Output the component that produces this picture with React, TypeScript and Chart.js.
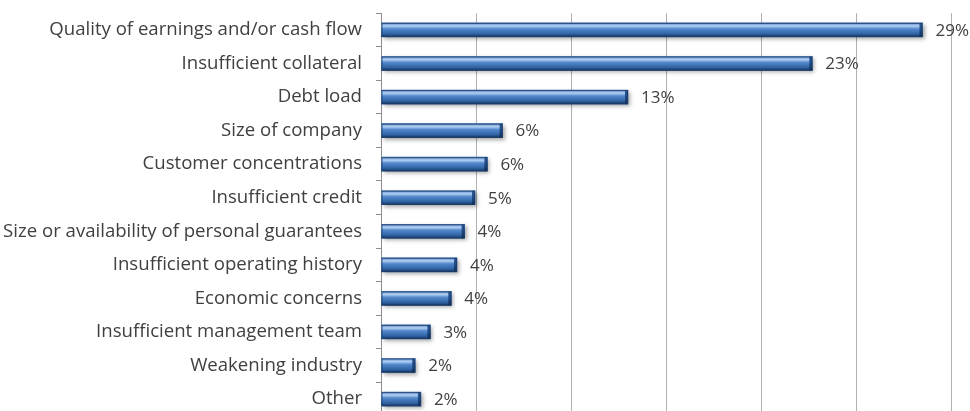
import React, { useEffect, useRef } from "react";
import { Chart, registerables } from "chart.js";

Chart.register(...registerables);

const categories: string[] = [
  "Quality of earnings and/or cash flow",
  "Insufficient collateral",
  "Debt load",
  "Size of company",
  "Customer concentrations",
  "Insufficient credit",
  "Size or availability of personal guarantees",
  "Insufficient operating history",
  "Economic concerns",
  "Insufficient management team",
  "Weakening industry",
  "Other",
];

const values: number[] = [28.5, 22.7, 13.0, 6.4, 5.6, 4.95, 4.4, 4.0, 3.7, 2.6, 1.8, 2.1];

const valueLabels: string[] = ["29%", "23%", "13%", "6%", "6%", "5%", "4%", "4%", "4%", "3%", "2%", "2%"];

const xTicks: number[] = [0, 5, 10, 15, 20, 25, 30];

const barStylePlugin = {
  id: "barStyle",
  afterDatasetsDraw(chart: any) {
    const ctx = chart.ctx as CanvasRenderingContext2D;
    const meta = chart.getDatasetMeta(0);
    meta.data.forEach((el: any, i: number) => {
      const { x, y, base, height } = el.getProps(["x", "y", "base", "height"], true);
      const left = Math.min(base, x);
      const w = Math.abs(x - base);
      const top = y - height / 2;
      ctx.save();
      ctx.shadowColor = "rgba(0,0,0,0.35)";
      ctx.shadowBlur = 4;
      ctx.shadowOffsetX = 2;
      ctx.shadowOffsetY = 2;
      const g = ctx.createLinearGradient(0, top, 0, top + height);
      g.addColorStop(0, "#5a8bcb");
      g.addColorStop(0.22, "#b3d0f2");
      g.addColorStop(0.42, "#5389cc");
      g.addColorStop(0.78, "#2f63a5");
      g.addColorStop(1, "#17345e");
      ctx.fillStyle = g;
      ctx.fillRect(left, top, w, height);
      ctx.restore();
      // dark end cap
      ctx.save();
      const g2 = ctx.createLinearGradient(0, top, 0, top + height);
      g2.addColorStop(0, "#2d5a94");
      g2.addColorStop(0.5, "#1f4a85");
      g2.addColorStop(1, "#102a50");
      ctx.fillStyle = g2;
      ctx.fillRect(left + w - 3, top, 3, height);
      ctx.strokeStyle = "rgba(30,60,105,0.8)";
      ctx.lineWidth = 1;
      ctx.strokeRect(left + 0.5, top + 0.5, w - 1, height - 1);
      ctx.restore();
      // value label
      ctx.save();
      ctx.font = "17px 'Open Sans'";
      ctx.fillStyle = "#404040";
      ctx.textAlign = "left";
      ctx.textBaseline = "middle";
      ctx.fillText(valueLabels[i], left + w + 13, y + 1);
      ctx.restore();
    });
  },
};

export default function App() {
  const ref = useRef<HTMLCanvasElement | null>(null);
  useEffect(() => {
    document.body.style.margin = "0";
    document.body.style.overflow = "hidden";
    const chart = new Chart(ref.current as HTMLCanvasElement, {
      type: "bar",
      data: {
        labels: categories,
        datasets: [
          {
            data: values,
            backgroundColor: "#3f74b8",
            barThickness: 14,
          },
        ],
      },
      options: {
        indexAxis: "y",
        animation: false,
        responsive: true,
        maintainAspectRatio: false,
        layout: { padding: { top: 4, right: 19, bottom: 4, left: 0 } },
        plugins: { legend: { display: false }, tooltip: { enabled: false } },
        scales: {
          x: {
            min: 0,
            max: 30,
            afterBuildTicks: (scale: any) => {
              scale.ticks = xTicks.map((v) => ({ value: v }));
            },
            ticks: { display: false },
            grid: { color: "#b0b0b0", lineWidth: 1, drawTicks: false },
            border: { display: false },
          },
          y: {
            afterFit: (scale: any) => {
              scale.width = 381;
            },
            ticks: {
              color: "#404040",
              font: { family: "'Open Sans'", size: 18.6 },
              padding: 14,
            },
            grid: {
              display: true,
              drawOnChartArea: false,
              drawTicks: true,
              tickLength: 5,
              color: "#8c8c8c",
              offset: true,
            },
            border: { display: true, color: "#8c8c8c", width: 1 },
          },
        },
      },
      plugins: [barStylePlugin],
    } as any);
    return () => chart.destroy();
  }, []);
  return (
    <div style={{ position: "absolute", left: 0, top: 0, width: 970, height: 411, overflow: "hidden", background: "#fff" }}>
      <div style={{ position: "relative", top: -12, width: 970, height: 453 }}>
        <canvas ref={ref} />
      </div>
    </div>
  );
}
